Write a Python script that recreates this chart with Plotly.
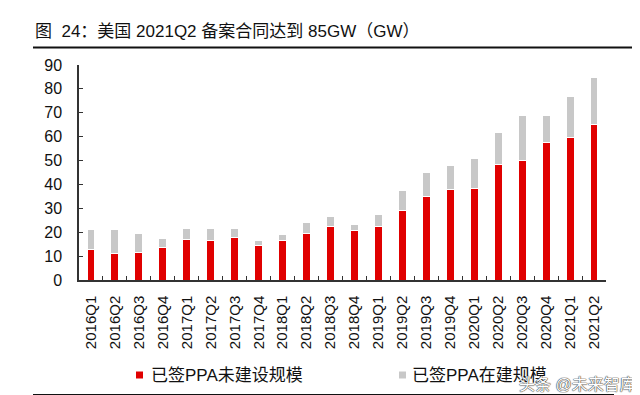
import plotly.graph_objects as go

# ---- data ----
quarters = ["2016Q1", "2016Q2", "2016Q3", "2016Q4", "2017Q1", "2017Q2", "2017Q3", "2017Q4",
            "2018Q1", "2018Q2", "2018Q3", "2018Q4", "2019Q1", "2019Q2", "2019Q3", "2019Q4",
            "2020Q1", "2020Q2", "2020Q3", "2020Q4", "2021Q1", "2021Q2"]
signed_not_built = [12.8, 11.2, 11.7, 13.5, 16.9, 16.6, 17.7, 14.4, 16.5, 19.4, 22.2, 20.9,
                    22.6, 29.0, 34.9, 38.0, 38.2, 48.4, 50.1, 57.5, 59.7, 65.3]
signed_in_construction = [8.3, 10.0, 7.8, 3.9, 4.6, 5.0, 3.9, 2.2, 2.5, 4.5, 4.5, 2.5,
                          4.9, 8.5, 10.2, 9.9, 12.5, 13.4, 18.8, 11.2, 17.1, 19.4]
y_ticks = [0, 10, 20, 30, 40, 50, 60, 70, 80, 90]
series_names = ["已签PPA未建设规模", "已签PPA在建规模"]
title_text = "图  24：美国 2021Q2 备案合同达到 85GW（GW）"
watermark = "头条 @未来智库"

RED = "#E00000"
GRAY = "#C8C8C8"
FONT = "'Liberation Sans', Arial, 'Noto Sans CJK SC', sans-serif"

W, H = 640, 395
L, R, T, B = 71, 42, 57, 123
pw, ph = W - L - R, H - T - B


def px(x):
    return (x - L) / pw


def py(y):
    return (H - B - y) / ph


fig = go.Figure()
fig.add_trace(go.Bar(x=quarters, y=signed_not_built, name=series_names[0],
                     marker=dict(color=RED, line=dict(color="white", width=1)),
                     showlegend=False))
fig.add_trace(go.Bar(x=quarters, y=signed_in_construction, name=series_names[1],
                     marker=dict(color=GRAY, line=dict(color="white", width=1)),
                     showlegend=False))

shapes = [
    # title underline
    dict(type="line", xref="paper", yref="paper", x0=px(25), x1=px(640), y0=py(39.5), y1=py(39.5),
         line=dict(color="#111111", width=2)),
    # bottom line
    dict(type="line", xref="paper", yref="paper", x0=px(25), x1=px(606), y0=py(387), y1=py(387),
         line=dict(color="#111111", width=2)),
    # legend squares
    dict(type="rect", xref="paper", yref="paper", x0=px(128), x1=px(135), y0=py(363.5), y1=py(370.5),
         fillcolor=RED, line=dict(width=0)),
    dict(type="rect", xref="paper", yref="paper", x0=px(391), x1=px(398), y0=py(363.5), y1=py(370.5),
         fillcolor=GRAY, line=dict(width=0)),
]

annotations = [
    dict(text=title_text, xref="paper", yref="paper", x=px(25), y=py(23), xanchor="left",
         yanchor="middle", showarrow=False, font=dict(family=FONT, size=17, color="#111111")),
    dict(text=series_names[0], xref="paper", yref="paper", x=px(141), y=py(367), xanchor="left",
         yanchor="middle", showarrow=False, font=dict(family=FONT, size=17, color="#111111")),
    dict(text=series_names[1], xref="paper", yref="paper", x=px(402), y=py(367), xanchor="left",
         yanchor="middle", showarrow=False, font=dict(family=FONT, size=17, color="#111111")),
    dict(text=watermark, xref="paper", yref="paper", x=px(630), y=py(376), xanchor="right",
         yanchor="middle", showarrow=False,
         font=dict(family=FONT, size=16, color="white",
                   shadow="0px 0px 1px #444, 0px 0px 1px #444, 0px 0px 1px #444")),
]

fig.update_layout(
    width=W, height=H,
    margin=dict(l=L, r=R, t=T, b=B, pad=0),
    paper_bgcolor="white", plot_bgcolor="white",
    barmode="stack", bargap=0.67,
    shapes=shapes, annotations=annotations,
    showlegend=False,
    font=dict(family=FONT, color="#111111"),
)
fig.update_xaxes(
    type="category", tickangle=-90, showgrid=False,
    showline=True, linecolor="#333333", linewidth=1.5,
    ticks="inside", ticklen=4, tickcolor="#333333", tickwidth=1, tickson="boundaries",
    tickfont=dict(family=FONT, size=15, color="#111111"),
    ticklabelstandoff=8,
)
fig.update_yaxes(
    range=[0, 90], tickvals=y_ticks, showgrid=False, zeroline=False,
    showline=True, linecolor="#333333", linewidth=1.5,
    ticks="inside", ticklen=4, tickcolor="#333333", tickwidth=1,
    tickfont=dict(family=FONT, size=16, color="#111111"),
    ticklabelstandoff=12,
)

fig.write_html("out.html")
